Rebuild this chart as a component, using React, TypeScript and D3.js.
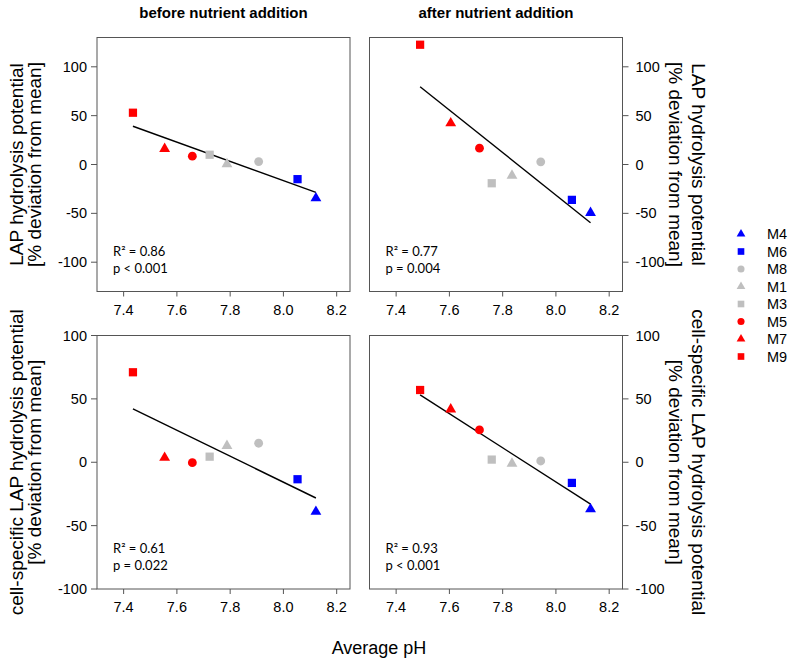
import * as d3 from "d3";

const sites = ["M9", "M7", "M5", "M3", "M1", "M8", "M6", "M4"];
const legendOrder = ["M4", "M6", "M8", "M1", "M3", "M5", "M7", "M9"];
const siteColor: Record<string, string> = {
  M4: "#0000ff", M6: "#0000ff",
  M8: "#bfbfbf", M1: "#bfbfbf", M3: "#bfbfbf",
  M5: "#ff0000", M7: "#ff0000", M9: "#ff0000",
};
const siteShape: Record<string, string> = {
  M4: "tri", M6: "sq", M8: "circ", M1: "tri", M3: "sq", M5: "circ", M7: "tri", M9: "sq",
};

// average pH per site (order of `sites`)
const phBefore = [7.435, 7.554, 7.658, 7.723, 7.788, 7.907, 8.053, 8.122];
const phAfter = [7.49, 7.605, 7.713, 7.759, 7.835, 7.943, 8.06, 8.13];

// % deviation from mean
const lapBefore = [53, 16, 8.5, 10, 0.5, 3, -15, -34.5];
const lapAfter = [122.6, 42.3, 16.7, -19.2, -11.3, 2.7, -36.2, -49.5];
const cellBefore = [71, 3.6, -0.3, 4.4, 13, 15, -13.4, -39];
const cellAfter = [57, 41.8, 25.5, 2.1, -1, 1, -16.3, -37];

const xTicks = [7.4, 7.6, 7.8, 8.0, 8.2];
const yTicks = [-100, -50, 0, 50, 100];
const columnTitles = ["before nutrient addition", "after nutrient addition"];
const rowLabels = [
  ["LAP hydrolysis potential", "[% deviation from mean]"],
  ["cell-specific LAP hydrolysis potential", "[% deviation from mean]"],
];
const stats = [
  ["R\u00b2 = 0.86", "p < 0.001"],
  ["R\u00b2 = 0.77", "p = 0.004"],
  ["R\u00b2 = 0.61", "p = 0.022"],
  ["R\u00b2 = 0.93", "p < 0.001"],
];

const W = 794;
const H = 665;
const cols = [[97, 350], [369.5, 622.5]];
const rows = [[37.5, 291.5], [335.5, 589]];
const yDomains = [[-130, 130], [-100, 100]];
const font = "'Liberation Sans', Arial, sans-serif";
const frame = "#555";

const fit = (xs: number[], ys: number[]) => {
  const mx = d3.mean(xs)!;
  const my = d3.mean(ys)!;
  const sxy = d3.sum(xs, (x, i) => (x - mx) * (ys[i] - my));
  const sxx = d3.sum(xs, (x) => (x - mx) ** 2);
  const b = sxy / sxx;
  return (x: number) => my + b * (x - mx);
};

const symbolPath = (shape: string, size: number) => {
  const type = shape === "tri" ? d3.symbolTriangle : shape === "sq" ? d3.symbolSquare : d3.symbolCircle;
  const s = shape === "tri" ? size * 0.75 : shape === "circ" ? size * 0.9 : size;
  return d3.symbol(type, s)()!;
};

const Panel = ({ r, c }: { r: number; c: number }) => {
  const [x0, x1] = cols[c];
  const [y0, y1] = rows[r];
  const x = d3.scaleLinear().domain([7.3, 8.25]).range([x0, x1]);
  const y = d3.scaleLinear().domain(yDomains[r]).range([y1, y0]);
  const ph = c === 0 ? phBefore : phAfter;
  const vals = r === 0 ? (c === 0 ? lapBefore : lapAfter) : c === 0 ? cellBefore : cellAfter;
  const line = fit(ph, vals);
  const [pmin, pmax] = d3.extent(ph) as [number, number];
  const right = c === 1;
  const axisX = right ? x1 : x0;
  const midY = (y0 + y1) / 2;
  const st = stats[r * 2 + c];
  const lab = rowLabels[r];

  return (
    <g>
      <rect x={x0} y={y0} width={x1 - x0} height={y1 - y0} fill="none" stroke={frame} strokeWidth={1} />
      {xTicks.map((t) => (
        <g key={t}>
          <line x1={x(t)} x2={x(t)} y1={y1} y2={y1 + 5} stroke={frame} />
          <text x={x(t)} y={y1 + 23} textAnchor="middle" fontSize={14.5} fontFamily={font}>
            {t.toFixed(1)}
          </text>
        </g>
      ))}
      {yTicks.map((t) => (
        <g key={t}>
          <line x1={axisX} x2={right ? axisX + 6 : axisX - 6} y1={y(t)} y2={y(t)} stroke={frame} />
          <text
            x={right ? axisX + 13 : axisX - 10}
            y={y(t) + 5}
            textAnchor={right ? "start" : "end"}
            fontSize={14.5}
            fontFamily={font}
          >
            {t}
          </text>
        </g>
      ))}
      <line
        x1={x(pmin)} y1={y(line(pmin))} x2={x(pmax)} y2={y(line(pmax))}
        stroke="#000" strokeWidth={1.4}
      />
      {sites.map((s, i) => (
        <path
          key={s}
          d={symbolPath(siteShape[s], 68)}
          transform={`translate(${x(ph[i])},${y(vals[i])})`}
          fill={siteColor[s]}
        />
      ))}
      <text x={x0 + 16} y={y1 - 36} fontSize={13} fontFamily="Lato, sans-serif">{st[0]}</text>
      <text x={x0 + 16} y={y1 - 19} fontSize={13} fontFamily="Lato, sans-serif">{st[1]}</text>
      {right ? (
        <g transform={`translate(0,${midY}) `}>
          <text transform="translate(692,0) rotate(90)" textAnchor="middle" fontSize={19} fontFamily={font}>{lab[0]}</text>
          <text transform="translate(669,0) rotate(90)" textAnchor="middle" fontSize={19} fontFamily={font}>{lab[1]}</text>
        </g>
      ) : (
        <g transform={`translate(0,${midY})`}>
          <text transform="translate(23,0) rotate(-90)" textAnchor="middle" fontSize={19} fontFamily={font}>{lab[0]}</text>
          <text transform="translate(41,0) rotate(-90)" textAnchor="middle" fontSize={19} fontFamily={font}>{lab[1]}</text>
        </g>
      )}
    </g>
  );
};

export default function App() {
  const legendY = d3.scalePoint().domain(legendOrder).range([234, 356.5]);
  return (
    <svg width={W} height={H} style={{ position: "absolute", left: 0, top: 0, background: "#fff" }}>
      {columnTitles.map((t, c) => (
        <text
          key={t}
          x={(cols[c][0] + cols[c][1]) / 2}
          y={18}
          textAnchor="middle"
          fontWeight="bold"
          fontSize={15}
          fontFamily={font}
        >
          {t}
        </text>
      ))}
      {[0, 1].map((r) => [0, 1].map((c) => <Panel key={`${r}-${c}`} r={r} c={c} />))}
      {legendOrder.map((s) => (
        <g key={s} transform={`translate(0,${legendY(s)})`}>
          <path d={symbolPath(siteShape[s], 44)} transform="translate(741,0)" fill={siteColor[s]} />
          <text x={767} y={5} fontSize={14.5} fontFamily={font}>{s}</text>
        </g>
      ))}
      <text x={379} y={654} textAnchor="middle" fontSize={18} fontFamily={font}>Average pH</text>
    </svg>
  );
}
